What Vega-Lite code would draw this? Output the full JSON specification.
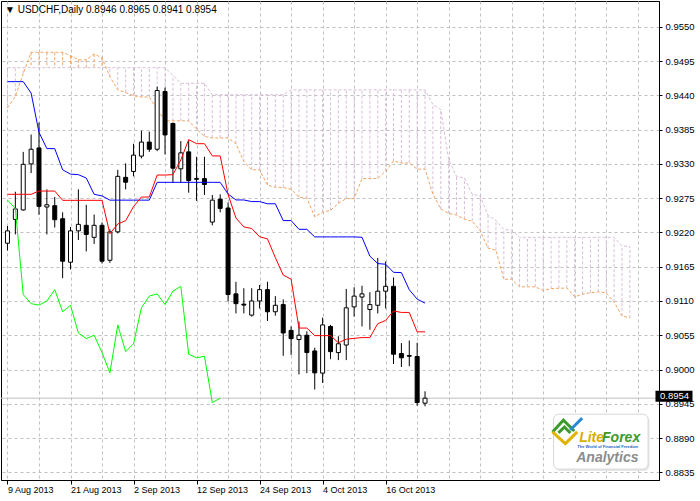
{
"$schema": "https://vega.github.io/schema/vega-lite/v6.json",
"width": 658, "height": 479,
"autosize": {"type": "none"},
"padding": {"left": 1, "top": 1, "right": 41, "bottom": 21},
"background": "white",
"title": {"text": "▼ USDCHF,Daily  0.8946 0.8965 0.8941 0.8954", "anchor": "start", "frame": "group", "offset": -14, "dx": 4, "font": "Liberation Sans", "fontSize": 10, "fontWeight": "normal", "color": "black"},
"config": {
  "view": {"stroke": "black", "strokeWidth": 1},
  "axis": {"gridColor": "#c0c0c0", "gridDash": [3, 3], "gridWidth": 1, "domainColor": "black", "tickColor": "black", "labelColor": "black", "labelFont": "Liberation Sans", "labelFontSize": 9.5, "labelFlush": false, "labelOverlap": false}
},
"datasets": {
  "ohlc": [
    {"i":0,"o":0.92027,"h":0.92303,"l":0.91910,"c":0.92225},
    {"i":1,"o":0.92409,"h":0.92853,"l":0.92168,"c":0.92577},
    {"i":2,"o":0.92561,"h":0.93493,"l":0.92550,"c":0.93293},
    {"i":3,"o":0.93300,"h":0.93771,"l":0.93152,"c":0.93535},
    {"i":4,"o":0.93556,"h":0.93964,"l":0.92483,"c":0.92618},
    {"i":5,"o":0.92608,"h":0.92891,"l":0.92168,"c":0.92644},
    {"i":6,"o":0.92629,"h":0.92770,"l":0.92278,"c":0.92404},
    {"i":7,"o":0.92420,"h":0.92523,"l":0.91466,"c":0.91738},
    {"i":8,"o":0.91722,"h":0.92288,"l":0.91607,"c":0.92225},
    {"i":9,"o":0.92225,"h":0.92891,"l":0.92079,"c":0.92330},
    {"i":10,"o":0.92314,"h":0.92644,"l":0.91895,"c":0.92168},
    {"i":11,"o":0.92121,"h":0.92487,"l":0.92016,"c":0.92314},
    {"i":12,"o":0.92314,"h":0.92361,"l":0.91701,"c":0.91738},
    {"i":13,"o":0.91753,"h":0.92251,"l":0.91712,"c":0.92209},
    {"i":14,"o":0.92209,"h":0.93205,"l":0.92184,"c":0.93100},
    {"i":15,"o":0.93084,"h":0.93309,"l":0.92891,"c":0.93006},
    {"i":16,"o":0.93179,"h":0.93623,"l":0.93100,"c":0.93441},
    {"i":17,"o":0.93425,"h":0.93834,"l":0.93388,"c":0.93650},
    {"i":18,"o":0.93650,"h":0.93818,"l":0.93493,"c":0.93535},
    {"i":19,"o":0.93535,"h":0.94541,"l":0.93504,"c":0.94478},
    {"i":20,"o":0.94462,"h":0.94525,"l":0.93451,"c":0.93765},
    {"i":21,"o":0.93949,"h":0.93964,"l":0.92995,"c":0.93231},
    {"i":22,"o":0.93221,"h":0.93666,"l":0.92995,"c":0.93477},
    {"i":23,"o":0.93493,"h":0.93677,"l":0.92838,"c":0.93032},
    {"i":24,"o":0.93064,"h":0.93414,"l":0.92707,"c":0.93053},
    {"i":25,"o":0.93064,"h":0.93414,"l":0.92801,"c":0.92970},
    {"i":26,"o":0.92366,"h":0.92801,"l":0.92314,"c":0.92718},
    {"i":27,"o":0.92734,"h":0.92812,"l":0.92523,"c":0.92586},
    {"i":28,"o":0.92592,"h":0.92680,"l":0.91093,"c":0.91203},
    {"i":29,"o":0.91214,"h":0.91408,"l":0.90900,"c":0.91057},
    {"i":30,"o":0.91049,"h":0.91304,"l":0.90900,"c":0.91034},
    {"i":31,"o":0.90873,"h":0.91304,"l":0.90848,"c":0.91100},
    {"i":32,"o":0.91100,"h":0.91356,"l":0.90979,"c":0.91282},
    {"i":33,"o":0.91282,"h":0.91408,"l":0.90779,"c":0.90927},
    {"i":34,"o":0.90927,"h":0.91178,"l":0.90864,"c":0.91031},
    {"i":35,"o":0.91042,"h":0.91125,"l":0.90220,"c":0.90586},
    {"i":36,"o":0.90628,"h":0.90691,"l":0.90235,"c":0.90496},
    {"i":37,"o":0.90481,"h":0.90770,"l":0.89921,"c":0.90550},
    {"i":38,"o":0.90550,"h":0.90613,"l":0.89942,"c":0.90272},
    {"i":39,"o":0.90298,"h":0.90350,"l":0.89679,"c":0.89946},
    {"i":40,"o":0.89942,"h":0.90833,"l":0.89784,"c":0.90716},
    {"i":41,"o":0.90691,"h":0.90716,"l":0.90166,"c":0.90287},
    {"i":42,"o":0.90272,"h":0.90534,"l":0.90151,"c":0.90413},
    {"i":43,"o":0.90393,"h":0.91293,"l":0.90151,"c":0.90990},
    {"i":44,"o":0.91005,"h":0.91320,"l":0.90848,"c":0.91178},
    {"i":45,"o":0.91163,"h":0.91345,"l":0.90691,"c":0.91214},
    {"i":46,"o":0.90963,"h":0.91241,"l":0.90638,"c":0.91042},
    {"i":47,"o":0.91031,"h":0.91791,"l":0.90900,"c":0.91257},
    {"i":48,"o":0.91257,"h":0.91733,"l":0.90979,"c":0.91335},
    {"i":49,"o":0.91335,"h":0.91477,"l":0.90088,"c":0.90245},
    {"i":50,"o":0.90256,"h":0.90424,"l":0.90041,"c":0.90188},
    {"i":51,"o":0.90224,"h":0.90465,"l":0.90052,"c":0.90213},
    {"i":52,"o":0.90209,"h":0.90429,"l":0.89418,"c":0.89470},
    {"i":53,"o":0.89460,"h":0.89650,"l":0.89410,"c":0.89540}
  ],
  "tk": [
    {"i":0,"t":0.92812,"k":0.9462},{"i":1,"t":0.92812,"k":0.9462},{"i":2,"t":0.92812,"k":0.9462},{"i":3,"t":0.92812,"k":0.94436},
    {"i":4,"t":0.92864,"k":0.93807},{"i":5,"t":0.92864,"k":0.93545},{"i":6,"t":0.92864,"k":0.93545},{"i":7,"t":0.92715,"k":0.93205},
    {"i":8,"t":0.92715,"k":0.93136},{"i":9,"t":0.92715,"k":0.93127},{"i":10,"t":0.92715,"k":0.93073},{"i":11,"t":0.92715,"k":0.92812},
    {"i":12,"t":0.92715,"k":0.92786},{"i":13,"t":0.92179,"k":0.92718},{"i":14,"t":0.92336,"k":0.92718},{"i":15,"t":0.92388,"k":0.92718},
    {"i":16,"t":0.92615,"k":0.92718},{"i":17,"t":0.92768,"k":0.92718},{"i":18,"t":0.92768,"k":0.92718},{"i":19,"t":0.93121,"k":0.93004},
    {"i":20,"t":0.93121,"k":0.93004},{"i":21,"t":0.93127,"k":0.93004},{"i":22,"t":0.93363,"k":0.93004},{"i":23,"t":0.9369,"k":0.93004},
    {"i":24,"t":0.93624,"k":0.93004},{"i":25,"t":0.93624,"k":0.93004},{"i":26,"t":0.93428,"k":0.93004},{"i":27,"t":0.93428,"k":0.93004},
    {"i":28,"t":0.92809,"k":0.92817},{"i":29,"t":0.92432,"k":0.92721},{"i":30,"t":0.92289,"k":0.92721},{"i":31,"t":0.92263,"k":0.92695},
    {"i":32,"t":0.92131,"k":0.92695},{"i":33,"t":0.92097,"k":0.9266},{"i":34,"t":0.91796,"k":0.9266},{"i":35,"t":0.91516,"k":0.9239},
    {"i":36,"t":0.9145,"k":0.9239},{"i":37,"t":0.90665,"k":0.9225},{"i":38,"t":0.90665,"k":0.9225},{"i":39,"t":0.90544,"k":0.92128},
    {"i":40,"t":0.90544,"k":0.92128},{"i":41,"t":0.90544,"k":0.92128},{"i":42,"t":0.90429,"k":0.92128},{"i":43,"t":0.90486,"k":0.92128},
    {"i":44,"t":0.905,"k":0.92128},{"i":45,"t":0.90512,"k":0.92122},{"i":46,"t":0.90512,"k":0.9182},{"i":47,"t":0.90735,"k":0.917},
    {"i":48,"t":0.90788,"k":0.9169},{"i":49,"t":0.9094,"k":0.9156},{"i":50,"t":0.90916,"k":0.91555},{"i":51,"t":0.90916,"k":0.9128},
    {"i":52,"t":0.90605,"k":0.9113},{"i":53,"t":0.90605,"k":0.91065}
  ],
  "chikou": [
    {"i":0,"ch":0.92718},{"i":1,"ch":0.92586},{"i":2,"ch":0.91203},{"i":3,"ch":0.91057},{"i":4,"ch":0.91034},{"i":5,"ch":0.911},
    {"i":6,"ch":0.91282},{"i":7,"ch":0.90927},{"i":8,"ch":0.91031},{"i":9,"ch":0.90586},{"i":10,"ch":0.90496},{"i":11,"ch":0.9055},
    {"i":12,"ch":0.90272},{"i":13,"ch":0.89946},{"i":14,"ch":0.90716},{"i":15,"ch":0.90287},{"i":16,"ch":0.90413},{"i":17,"ch":0.9099},
    {"i":18,"ch":0.91178},{"i":19,"ch":0.91214},{"i":20,"ch":0.91042},{"i":21,"ch":0.91257},{"i":22,"ch":0.91335},{"i":23,"ch":0.90245},
    {"i":24,"ch":0.90188},{"i":25,"ch":0.90213},{"i":26,"ch":0.8947},{"i":27,"ch":0.8954}
  ],
  "cloud": [
    {"i":0,"a":0.942,"b":0.94844},{"i":1,"a":0.94384,"b":0.94844},{"i":2,"a":0.9475,"b":0.94844},{"i":3,"a":0.95091,"b":0.94844},
    {"i":4,"a":0.95091,"b":0.94844},{"i":5,"a":0.95091,"b":0.94844},{"i":6,"a":0.95091,"b":0.94844},{"i":7,"a":0.95091,"b":0.94844},
    {"i":8,"a":0.95038,"b":0.94844},{"i":9,"a":0.9497,"b":0.94844},{"i":10,"a":0.9497,"b":0.94844},{"i":11,"a":0.95064,"b":0.94844},
    {"i":12,"a":0.95001,"b":0.94844},{"i":13,"a":0.94698,"b":0.94844},{"i":14,"a":0.94488,"b":0.94844},{"i":15,"a":0.94447,"b":0.94844},
    {"i":16,"a":0.94393,"b":0.94844},{"i":17,"a":0.94373,"b":0.94844},{"i":18,"a":0.94373,"b":0.94844},{"i":19,"a":0.94173,"b":0.94844},
    {"i":20,"a":0.93991,"b":0.94844},{"i":21,"a":0.93991,"b":0.94723},{"i":22,"a":0.93991,"b":0.94593},{"i":23,"a":0.93991,"b":0.94593},
    {"i":24,"a":0.93859,"b":0.94593},{"i":25,"a":0.9374,"b":0.94593},{"i":26,"a":0.93716,"b":0.94409},{"i":27,"a":0.93716,"b":0.94409},
    {"i":28,"a":0.93716,"b":0.94409},{"i":29,"a":0.93624,"b":0.94409},{"i":30,"a":0.93336,"b":0.94409},{"i":31,"a":0.93205,"b":0.94409},
    {"i":32,"a":0.93205,"b":0.94409},{"i":33,"a":0.9296,"b":0.94409},{"i":34,"a":0.92926,"b":0.94409},{"i":35,"a":0.92921,"b":0.94409},
    {"i":36,"a":0.92894,"b":0.94488},{"i":37,"a":0.92764,"b":0.94488},{"i":38,"a":0.92751,"b":0.94488},{"i":39,"a":0.92449,"b":0.94488},
    {"i":40,"a":0.92527,"b":0.94488},{"i":41,"a":0.92553,"b":0.94488},{"i":42,"a":0.92667,"b":0.94488},{"i":43,"a":0.92743,"b":0.94488},
    {"i":44,"a":0.92743,"b":0.94488},{"i":45,"a":0.93063,"b":0.94488},{"i":46,"a":0.93063,"b":0.94488},{"i":47,"a":0.93066,"b":0.94488},
    {"i":48,"a":0.93184,"b":0.94488},{"i":49,"a":0.93347,"b":0.94488},{"i":50,"a":0.93314,"b":0.94488},{"i":51,"a":0.93314,"b":0.94488},
    {"i":52,"a":0.93216,"b":0.94488},{"i":53,"a":0.93216,"b":0.94488},{"i":54,"a":0.92813,"b":0.94252},{"i":55,"a":0.92576,"b":0.94173},
    {"i":56,"a":0.92505,"b":0.93367},{"i":57,"a":0.92479,"b":0.931},{"i":58,"a":0.92413,"b":0.93073},{"i":59,"a":0.92379,"b":0.92812},
    {"i":60,"a":0.92228,"b":0.92786},{"i":61,"a":0.91948,"b":0.92472},{"i":62,"a":0.91915,"b":0.92393},{"i":63,"a":0.91448,"b":0.92247},
    {"i":64,"a":0.91448,"b":0.92236},{"i":65,"a":0.91327,"b":0.92121},{"i":66,"a":0.91327,"b":0.92121},{"i":67,"a":0.91327,"b":0.92121},
    {"i":68,"a":0.9127,"b":0.92121},{"i":69,"a":0.91298,"b":0.92121},{"i":70,"a":0.91305,"b":0.92121},{"i":71,"a":0.91307,"b":0.92121},
    {"i":72,"a":0.91167,"b":0.92121},{"i":73,"a":0.91207,"b":0.92121},{"i":74,"a":0.91233,"b":0.92121},{"i":75,"a":0.91244,"b":0.92121},
    {"i":76,"a":0.91231,"b":0.92121},{"i":77,"a":0.91081,"b":0.92121},{"i":78,"a":0.9086,"b":0.91984},{"i":79,"a":0.90827,"b":0.91973}
  ],
  "icon": [
    {"s":"g1","k":0,"i":69.31,"p":0.89014},{"s":"g1","k":1,"i":70.56,"p":0.89187},{"s":"g1","k":2,"i":71.81,"p":0.8903},
    {"s":"g2","k":0,"i":70.06,"p":0.88999},{"s":"g2","k":1,"i":70.69,"p":0.89077},{"s":"g2","k":2,"i":71.31,"p":0.88999},
    {"s":"y","k":0,"i":69.31,"p":0.88983},{"s":"y","k":1,"i":70.81,"p":0.8881},{"s":"y","k":2,"i":72.19,"p":0.88983},
    {"s":"b","k":0,"i":71.56,"p":0.89046},{"s":"b","k":1,"i":72.81,"p":0.89203}
  ],
  "last": [{"p": 0.8954}],
  "one": [{"z": 0}]
},
"layer": [
  {"data": {"name": "cloud"},
   "mark": {"type": "rule", "strokeDash": [3, 2], "strokeWidth": 1},
   "encoding": {
     "x": {"field": "i", "type": "quantitative", "title": null,
       "scale": {"domain": [-0.1875, 82.0625], "nice": false, "zero": false},
       "axis": {"values": [0,4,8,12,16,20,24,28,32,36,40,44,48,52,56,60,64,68,72,76,80], "tickCount": 40, "grid": true, "domain": true, "tickSize": 4,
         "tickColor": {"condition": {"test": "datum.value % 8 == 0 && datum.value <= 48", "value": "black"}, "value": "transparent"},
         "labelAlign": "left", "labelBaseline": "top", "labelPadding": 1, "labelFontSize": 9,
         "labelExpr": "datum.value == 0 ? '9 Aug 2013' : datum.value == 8 ? '21 Aug 2013' : datum.value == 16 ? '2 Sep 2013' : datum.value == 24 ? '12 Sep 2013' : datum.value == 32 ? '24 Sep 2013' : datum.value == 40 ? '4 Oct 2013' : datum.value == 48 ? '16 Oct 2013' : ''"}},
     "y": {"field": "a", "type": "quantitative", "title": null, "scale": {"domain": [0.88307, 0.95834], "nice": false, "zero": false},
       "axis": {"orient": "right", "values": [0.8835,0.889,0.8945,0.9,0.9055,0.911,0.9165,0.922,0.9275,0.933,0.9385,0.944,0.9495,0.955], "tickCount": 30, "format": ".4f", "grid": true, "tickSize": 3, "labelPadding": 3}},
     "y2": {"field": "b"},
     "color": {"condition": {"test": "datum.a > datum.b", "value": "#F4A460"}, "value": "#D8BFD8"}}},
  {"data": {"name": "cloud"},
   "mark": {"type": "line", "color": "#F4A460", "strokeDash": [3, 2], "strokeWidth": 1},
   "encoding": {"x": {"field": "i", "type": "quantitative", "title": null}, "y": {"field": "a", "type": "quantitative", "title": null}}},
  {"data": {"name": "cloud"},
   "mark": {"type": "line", "color": "#D8BFD8", "strokeDash": [3, 2], "strokeWidth": 1},
   "encoding": {"x": {"field": "i", "type": "quantitative", "title": null}, "y": {"field": "b", "type": "quantitative", "title": null}}},
  {"data": {"name": "last"},
   "mark": {"type": "rule", "color": "#c0c0c0", "strokeWidth": 1},
   "encoding": {"y": {"field": "p", "type": "quantitative", "title": null}}},
  {"data": {"name": "ohlc"},
   "mark": {"type": "rule", "color": "black", "strokeWidth": 1},
   "encoding": {"x": {"field": "i", "type": "quantitative", "title": null}, "y": {"field": "l", "type": "quantitative", "title": null}, "y2": {"field": "h"}}},
  {"data": {"name": "ohlc"},
   "mark": {"type": "bar", "width": 4, "stroke": "black", "strokeWidth": 1},
   "encoding": {"x": {"field": "i", "type": "quantitative", "title": null}, "y": {"field": "o", "type": "quantitative", "title": null}, "y2": {"field": "c"},
     "fill": {"condition": {"test": "datum.c >= datum.o", "value": "white"}, "value": "black"}}},
  {"data": {"name": "chikou"},
   "mark": {"type": "line", "color": "#00FF00", "strokeWidth": 1},
   "encoding": {"x": {"field": "i", "type": "quantitative", "title": null}, "y": {"field": "ch", "type": "quantitative", "title": null}}},
  {"data": {"name": "tk"},
   "mark": {"type": "line", "color": "#0000FF", "strokeWidth": 1},
   "encoding": {"x": {"field": "i", "type": "quantitative", "title": null}, "y": {"field": "k", "type": "quantitative", "title": null}}},
  {"data": {"name": "tk"},
   "mark": {"type": "line", "color": "#FF0000", "strokeWidth": 1},
   "encoding": {"x": {"field": "i", "type": "quantitative", "title": null}, "y": {"field": "t", "type": "quantitative", "title": null}}},
  {"data": {"name": "one"},
   "mark": {"type": "rect", "fill": "#e6e6e6", "cornerRadius": 6},
   "encoding": {"x": {"datum": 69.45, "type": "quantitative", "title": null}, "x2": {"datum": 81.5},
     "y": {"datum": 0.89262, "type": "quantitative", "title": null}, "y2": {"datum": 0.88372}}},
  {"data": {"name": "one"},
   "mark": {"type": "rect", "fill": "white", "stroke": "#d8d8d8", "strokeWidth": 1, "cornerRadius": 5},
   "encoding": {"x": {"datum": 69.31, "type": "quantitative", "title": null}, "x2": {"datum": 81.31},
     "y": {"datum": 0.89282, "type": "quantitative", "title": null}, "y2": {"datum": 0.88402}}},
  {"data": {"name": "icon"},
   "mark": {"type": "line", "strokeWidth": 3, "strokeCap": "square"},
   "encoding": {"x": {"field": "i", "type": "quantitative", "title": null}, "y": {"field": "p", "type": "quantitative", "title": null},
     "order": {"field": "k"},
     "color": {"field": "s", "type": "nominal", "legend": null, "scale": {"domain": ["g1", "g2", "y", "b"], "range": ["#3a9a2a", "#3a9a2a", "#e0b400", "#2a8ad0"]}}}},
  {"data": {"name": "one"},
   "mark": {"type": "text", "text": "Lite", "align": "left", "baseline": "alphabetic", "font": "Liberation Sans", "fontSize": 14, "fontWeight": "bold", "fontStyle": "italic", "color": "#d4b000"},
   "encoding": {"x": {"datum": 72.56, "type": "quantitative", "title": null}, "y": {"datum": 0.88842, "type": "quantitative", "title": null}}},
  {"data": {"name": "one"},
   "mark": {"type": "text", "text": "Forex", "align": "right", "baseline": "alphabetic", "font": "Liberation Sans", "fontSize": 14, "fontWeight": "bold", "fontStyle": "italic", "color": "#3a9a2a"},
   "encoding": {"x": {"datum": 80.31, "type": "quantitative", "title": null}, "y": {"datum": 0.88842, "type": "quantitative", "title": null}}},
  {"data": {"name": "one"},
   "mark": {"type": "text", "text": "The World of Financial Freedom", "align": "center", "baseline": "alphabetic", "font": "Liberation Sans", "fontSize": 4, "fontWeight": "bold", "color": "#1f5fbf"},
   "encoding": {"x": {"datum": 76.19, "type": "quantitative", "title": null}, "y": {"datum": 0.88747, "type": "quantitative", "title": null}}},
  {"data": {"name": "one"},
   "mark": {"type": "text", "text": "Analytics", "align": "left", "baseline": "alphabetic", "font": "Liberation Sans", "fontSize": 14, "fontWeight": "bold", "fontStyle": "italic", "color": "#8c8c8c"},
   "encoding": {"x": {"datum": 72.19, "type": "quantitative", "title": null}, "y": {"datum": 0.88512, "type": "quantitative", "title": null}}},
  {"data": {"name": "last"},
   "mark": {"type": "bar", "height": 11, "color": "black", "yOffset": -2},
   "encoding": {"x": {"datum": 82.25, "type": "quantitative", "title": null}, "x2": {"datum": 86.95},
     "y": {"field": "p", "type": "quantitative", "title": null}}},
  {"data": {"name": "last"},
   "mark": {"type": "text", "align": "left", "baseline": "middle", "dx": 6, "dy": -2, "color": "white", "font": "Liberation Sans", "fontSize": 9.5},
   "encoding": {"x": {"datum": 82.0625, "type": "quantitative", "title": null},
     "y": {"field": "p", "type": "quantitative", "title": null},
     "text": {"field": "p", "type": "quantitative", "format": ".4f"}}}
]
}
